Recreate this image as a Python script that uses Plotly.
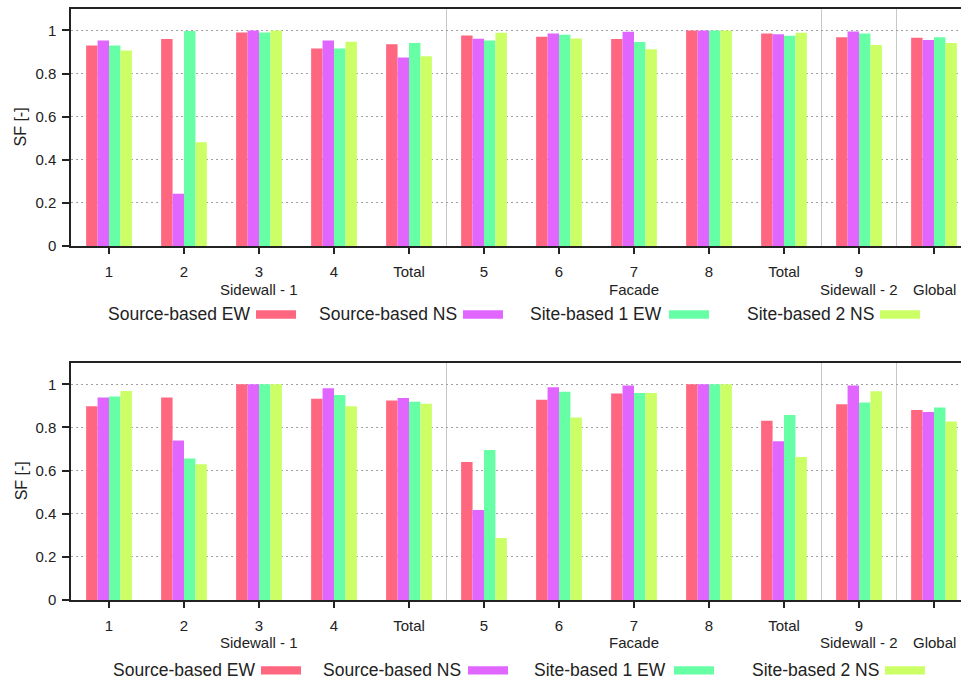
import plotly.graph_objects as go

# Category axis: building zones; some ticks carry a zone-group label underneath
CATEGORIES = ["1", "2", "3", "4", "Total", "5", "6", "7", "8", "Total", "9", ""]
GROUP_LABELS = {2: "Sidewall - 1", 7: "Facade", 10: "Sidewall - 2", 11: "Global"}
SEPARATORS = [4.5, 9.5, 10.5]

SERIES_NAMES = ["Source-based EW", "Source-based NS", "Site-based 1 EW", "Site-based 2 NS"]
SERIES_COLORS = ["#ff6680", "#e066ff", "#66ffa6", "#ccff66"]

# Upper panel: SF per zone
TOP_SOURCE_EW = [0.930, 0.960, 0.991, 0.916, 0.936, 0.977, 0.971, 0.960, 1.000, 0.986, 0.968, 0.966]
TOP_SOURCE_NS = [0.954, 0.243, 1.000, 0.954, 0.875, 0.962, 0.986, 0.994, 1.000, 0.982, 0.995, 0.956]
TOP_SITE1_EW = [0.930, 0.998, 0.991, 0.916, 0.942, 0.953, 0.980, 0.946, 1.000, 0.976, 0.986, 0.968]
TOP_SITE2_NS = [0.907, 0.482, 1.000, 0.948, 0.881, 0.989, 0.963, 0.913, 1.000, 0.989, 0.933, 0.942]

# Lower panel: SF per zone
BOT_SOURCE_EW = [0.898, 0.939, 1.000, 0.933, 0.925, 0.640, 0.928, 0.957, 1.000, 0.831, 0.908, 0.881]
BOT_SOURCE_NS = [0.939, 0.739, 1.000, 0.982, 0.936, 0.417, 0.986, 0.994, 1.000, 0.736, 0.995, 0.872]
BOT_SITE1_EW = [0.944, 0.656, 1.000, 0.950, 0.919, 0.695, 0.966, 0.960, 1.000, 0.858, 0.916, 0.893]
BOT_SITE2_NS = [0.969, 0.629, 1.000, 0.898, 0.910, 0.287, 0.846, 0.960, 1.000, 0.663, 0.968, 0.827]

W, H = 961, 689
FONT = "Liberation Sans, Arial, sans-serif"
INK = "#222222"

positions = list(range(len(CATEGORIES)))

panels = [
    dict(x="x", y="y", data=[TOP_SOURCE_EW, TOP_SOURCE_NS, TOP_SITE1_EW, TOP_SITE2_NS],
         top=9, bottom=249, group_y=293, legend_y=318,
         legend_text_right=[252, 459, 664, 876], legend_swatch_left=[256, 463, 669, 880]),
    dict(x="x2", y="y2", data=[BOT_SOURCE_EW, BOT_SOURCE_NS, BOT_SITE1_EW, BOT_SITE2_NS],
         top=367, bottom=607, group_y=650, legend_y=678,
         legend_text_right=[257, 463, 668, 881], legend_swatch_left=[261, 468, 674, 885]),
]

fig = go.Figure()
for p in panels:
    for name, color, vals in zip(SERIES_NAMES, SERIES_COLORS, p["data"]):
        fig.add_trace(go.Bar(
            x=positions, y=vals, name=name, marker=dict(color=color, line=dict(width=0)),
            xaxis=p["x"], yaxis=p["y"], showlegend=False,
        ))

plot_left = 71
x_range = [-(109 - plot_left) / 75, -(109 - plot_left) / 75 + (W - plot_left) / 75]

def xaxis_style(anchor):
    return dict(
        domain=[plot_left / W, 1], range=x_range, anchor=anchor,
        tickmode="array", tickvals=positions, ticktext=CATEGORIES,
        ticks="outside", ticklen=6, tickwidth=1.5, tickcolor=INK, ticklabelstandoff=5,
        showline=True, linecolor=INK, linewidth=1.5, mirror=True,
        showgrid=False, zeroline=False,
        tickfont=dict(family=FONT, size=15, color=INK),
    )

def yaxis_style(anchor, top, bottom):
    return dict(
        domain=[1 - bottom / H, 1 - top / H], range=[0, 1.1], anchor=anchor,
        tick0=0, dtick=0.2, ticks="outside", ticklen=7, tickwidth=1.5, tickcolor=INK,
        ticklabelstandoff=3,
        showline=True, linecolor=INK, linewidth=1.5,
        showgrid=True, gridcolor="#a0a0a0", griddash="1.5px,3.5px", gridwidth=1.3,
        zeroline=False,
        tickfont=dict(family=FONT, size=15, color=INK),
    )

shapes = []
annotations = []
for p in panels:
    # thin separators between zone groups
    for s in SEPARATORS:
        shapes.append(dict(type="line", xref=p["x"], yref=p["y"] + " domain",
                           x0=s, x1=s, y0=0, y1=1, line=dict(color="#c8c8c8", width=1),
                           layer="below"))
    # zone-group labels under the tick labels
    for pos, label in GROUP_LABELS.items():
        annotations.append(dict(text=label, xref=p["x"], yref="paper",
                                x=pos, y=1 - p["group_y"] / H,
                                xanchor="center", yanchor="middle", showarrow=False,
                                font=dict(family=FONT, size=15, color=INK)))
    # y-axis title
    annotations.append(dict(text="SF [-]", xref="paper", yref="paper",
                            x=21 / W, y=1 - (p["top"] + p["bottom"]) / 2 / H,
                            textangle=-90, showarrow=False, xanchor="center", yanchor="middle",
                            font=dict(family=FONT, size=16, color=INK)))
    # legend row: label followed by colour swatch
    for name, color, tr, sl in zip(SERIES_NAMES, SERIES_COLORS,
                                   p["legend_text_right"], p["legend_swatch_left"]):
        annotations.append(dict(text=name, xref="paper", yref="paper",
                                x=tr / W, y=1 - p["legend_y"] / H,
                                xanchor="right", yanchor="middle", showarrow=False,
                                font=dict(family=FONT, size=17.5, color=INK)))
        shapes.append(dict(type="rect", xref="paper", yref="paper",
                           x0=sl / W, x1=(sl + 40) / W,
                           y0=1 - (p["legend_y"] + 4.5) / H, y1=1 - (p["legend_y"] - 4) / H,
                           fillcolor=color, line=dict(width=0)))

fig.update_layout(
    width=W, height=H,
    margin=dict(l=0, r=0, t=0, b=0),
    paper_bgcolor="white", plot_bgcolor="white",
    barmode="group", bargap=0.39, bargroupgap=0,
    xaxis=xaxis_style("y"),
    yaxis=yaxis_style("x", panels[0]["top"], panels[0]["bottom"]),
    xaxis2=xaxis_style("y2"),
    yaxis2=yaxis_style("x2", panels[1]["top"], panels[1]["bottom"]),
    shapes=shapes, annotations=annotations,
    font=dict(family=FONT, color=INK),
)

fig.write_html("out.html")
